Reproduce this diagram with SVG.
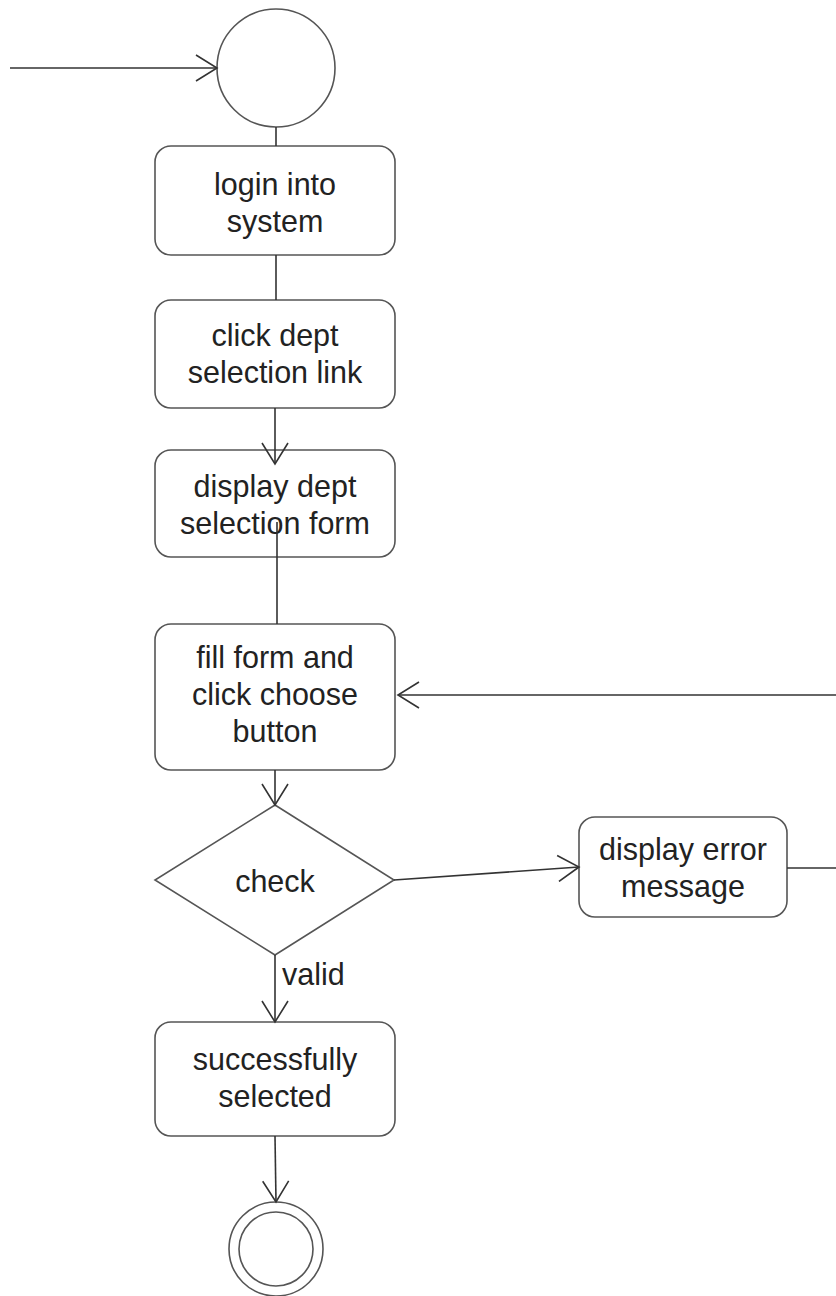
<svg xmlns="http://www.w3.org/2000/svg" width="836" height="1296" viewBox="0 0 836 1296">
<defs>
<style>
.n{fill:#fff;stroke:#555;stroke-width:1.6}
.t{font-family:"Liberation Sans",Arial,sans-serif;font-size:30.5px;fill:#222;text-anchor:middle}
.c{fill:none;stroke:#333;stroke-width:1.6}
.h{fill:none;stroke:#333;stroke-width:1.6}
</style>
<marker id="a" viewBox="0 0 24 28" refX="22" refY="14" markerWidth="24" markerHeight="28" markerUnits="userSpaceOnUse" orient="auto">
<path class="h" d="M1,1 L22,14 L1,27"/>
</marker>
</defs>
<rect width="836" height="1296" fill="#fff"/>
<g id="start"><circle class="n" cx="276" cy="68" r="59"/></g>
<g id="login"><rect class="n" x="155" y="146" width="240" height="109" rx="16"/>
<text class="t" x="275" y="195">login into</text><text class="t" x="275" y="232">system</text></g>
<g id="click"><rect class="n" x="155" y="300" width="240" height="108" rx="16"/>
<text class="t" x="275" y="346">click dept</text><text class="t" x="275" y="383">selection link</text></g>
<g id="display"><rect class="n" x="155" y="450" width="240" height="107" rx="16"/>
<text class="t" x="275" y="497">display dept</text><text class="t" x="275" y="534">selection form</text></g>
<g id="fill"><rect class="n" x="155" y="624" width="240" height="146" rx="16"/>
<text class="t" x="275" y="668">fill form and</text><text class="t" x="275" y="705">click choose</text><text class="t" x="275" y="742">button</text></g>
<g id="check"><polygon class="n" points="275,805 394,880 275,955 155,880"/>
<text class="t" x="275" y="892">check</text></g>
<g id="error"><rect class="n" x="579" y="817" width="208" height="100" rx="16"/>
<text class="t" x="683" y="860">display error</text><text class="t" x="683" y="897">message</text></g>
<g id="success"><rect class="n" x="155" y="1022" width="240" height="114" rx="16"/>
<text class="t" x="275" y="1070">successfully</text><text class="t" x="275" y="1107">selected</text></g>
<g id="end"><circle class="n" cx="276" cy="1249" r="47"/><circle class="n" cx="276" cy="1249" r="37"/></g>
<g id="connectors">
<line class="c" x1="10" y1="68" x2="217" y2="68" marker-end="url(#a)"/>
<line class="c" x1="276" y1="127" x2="276" y2="146"/>
<line class="c" x1="276" y1="255" x2="276" y2="300"/>
<line class="c" x1="275" y1="408" x2="275" y2="464" marker-end="url(#a)"/>
<line class="c" x1="277" y1="522" x2="277" y2="624"/>
<line class="c" x1="275" y1="770" x2="275" y2="805" marker-end="url(#a)"/>
<line class="c" x1="394" y1="880" x2="579" y2="867" marker-end="url(#a)"/>
<line class="c" x1="787" y1="868" x2="836" y2="868"/>
<line class="c" x1="836" y1="695" x2="398" y2="695" marker-end="url(#a)"/>
<line class="c" x1="275" y1="955" x2="275" y2="1022" marker-end="url(#a)"/>
<line class="c" x1="275" y1="1136" x2="276" y2="1202" marker-end="url(#a)"/>
<text class="t" x="282" y="985" style="text-anchor:start">valid</text>
</g>
</svg>
